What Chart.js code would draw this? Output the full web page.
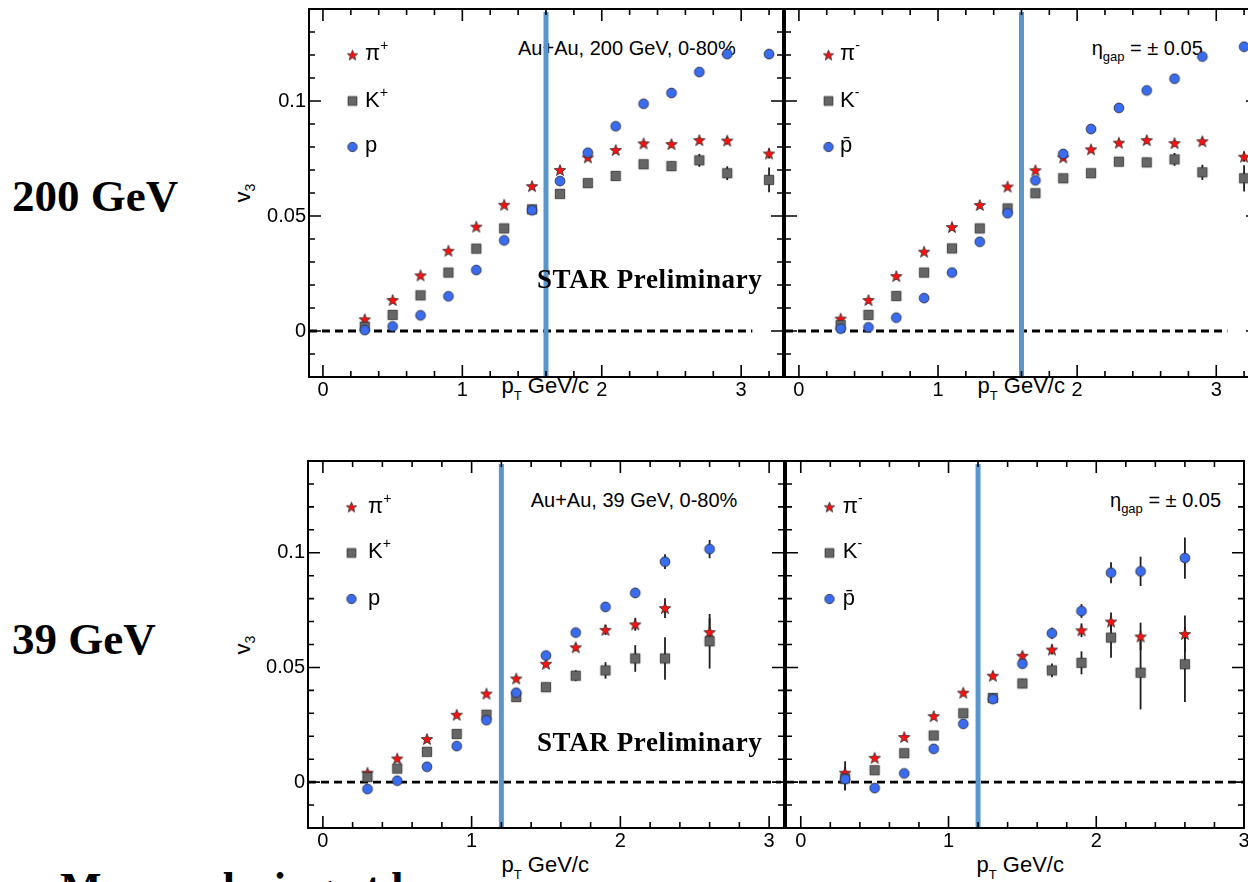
<!DOCTYPE html>
<html><head><meta charset="utf-8">
<script src="https://cdn.jsdelivr.net/npm/chart.js@4.4.0/dist/chart.umd.min.js"></script>
<style>
html,body{margin:0;padding:0;background:#fff;width:1248px;height:882px;overflow:hidden;position:relative;font-family:"Liberation Sans",Arial,sans-serif;color:#000;}
canvas{position:absolute;z-index:1;}
.t{position:absolute;white-space:nowrap;color:#000;}
.sans{font-family:"Liberation Sans","DejaVu Sans",Arial,sans-serif;}
.serif{font-family:"Liberation Serif","DejaVu Serif",serif;font-weight:bold;}
.up{position:relative;line-height:0;}
.front{z-index:3;}
.back{z-index:0;}
</style></head>
<body>
<canvas id="c200a"></canvas>
<canvas id="c200b"></canvas>
<canvas id="c39a"></canvas>
<canvas id="c39b"></canvas>
<div id="texts"></div>
<script>
// ---------------- data ----------------
const pt200 = [0.3,0.5,0.7,0.9,1.1,1.3,1.5,1.7,1.9,2.1,2.3,2.5,2.7,2.9,3.2];
const v3_200_piPlus  = [0.0051,0.0135,0.0242,0.0349,0.0454,0.0549,0.0630,0.0700,0.0755,0.0787,0.0816,0.0813,0.0830,0.0828,0.0772];
const v3_200_kPlus   = [0.0019,0.0070,0.0155,0.0254,0.0358,0.0446,0.0529,0.0596,0.0643,0.0674,0.0725,0.0717,0.0742,0.0686,0.0657];
const v3_200_p       = [0.0004,0.0020,0.0068,0.0151,0.0265,0.0394,0.0525,0.0652,0.0775,0.0890,0.0988,0.1035,0.1126,0.1204,0.1204];
const err_200_piPlus = [0.0004,0.0004,0.0004,0.0004,0.0004,0.0005,0.0005,0.0006,0.0007,0.0008,0.0009,0.0011,0.0013,0.0016,0.0022];
const err_200_kPlus  = [0.0006,0.0006,0.0006,0.0006,0.0007,0.0007,0.0008,0.0009,0.0011,0.0013,0.0016,0.0020,0.0028,0.0030,0.0054];
const err_200_p      = [0.0006,0.0006,0.0006,0.0006,0.0006,0.0007,0.0008,0.0008,0.0009,0.0010,0.0011,0.0012,0.0013,0.0016,0.0021];
const v3_200_piMinus = [0.0054,0.0135,0.0239,0.0345,0.0452,0.0548,0.0628,0.0699,0.0755,0.0790,0.0819,0.0830,0.0817,0.0825,0.0758];
const v3_200_kMinus  = [0.0026,0.0070,0.0152,0.0254,0.0359,0.0446,0.0533,0.0599,0.0664,0.0686,0.0736,0.0733,0.0746,0.0690,0.0664];
const v3_200_pbar    = [0.0010,0.0016,0.0058,0.0143,0.0254,0.0388,0.0512,0.0655,0.0770,0.0878,0.0970,0.1046,0.1097,0.1193,0.1236];
const err_200_piMinus= [0.0004,0.0004,0.0004,0.0004,0.0004,0.0005,0.0005,0.0006,0.0007,0.0008,0.0009,0.0011,0.0013,0.0016,0.0022];
const err_200_kMinus = [0.0006,0.0006,0.0006,0.0006,0.0007,0.0007,0.0008,0.0009,0.0011,0.0013,0.0016,0.0020,0.0028,0.0033,0.0057];
const err_200_pbar   = [0.0006,0.0006,0.0006,0.0006,0.0006,0.0007,0.0008,0.0008,0.0009,0.0010,0.0011,0.0012,0.0013,0.0016,0.0021];

const pt39 = [0.3,0.5,0.7,0.9,1.1,1.3,1.5,1.7,1.9,2.1,2.3,2.6];
const v3_39_piPlus  = [0.0041,0.0103,0.0188,0.0294,0.0386,0.0452,0.0516,0.0588,0.0664,0.0688,0.0759,0.0654];
const v3_39_kPlus   = [0.0022,0.0059,0.0132,0.0210,0.0294,0.0371,0.0414,0.0464,0.0487,0.0539,0.0539,0.0614];
const v3_39_p       = [-0.0030,0.0006,0.0067,0.0157,0.0270,0.0390,0.0552,0.0652,0.0764,0.0825,0.0961,0.1016];
const err_39_piPlus = [0.0008,0.0008,0.0008,0.0009,0.0010,0.0011,0.0013,0.0016,0.0022,0.0028,0.0043,0.0060];
const err_39_kPlus  = [0.0012,0.0010,0.0010,0.0011,0.0013,0.0015,0.0018,0.0024,0.0036,0.0058,0.0093,0.0119];
const err_39_p      = [0.0012,0.0009,0.0009,0.0009,0.0010,0.0011,0.0013,0.0018,0.0020,0.0022,0.0032,0.0040];
const v3_39_piMinus = [0.0041,0.0106,0.0197,0.0288,0.0390,0.0464,0.0551,0.0578,0.0662,0.0700,0.0635,0.0646];
const v3_39_kMinus  = [0.0016,0.0052,0.0126,0.0203,0.0300,0.0367,0.0430,0.0487,0.0520,0.0630,0.0477,0.0514];
const v3_39_pbar    = [0.0013,-0.0026,0.0038,0.0145,0.0254,0.0362,0.0516,0.0649,0.0746,0.0913,0.0919,0.0977];
const err_39_piMinus= [0.0050,0.0010,0.0010,0.0010,0.0012,0.0014,0.0016,0.0022,0.0030,0.0040,0.0060,0.0080];
const err_39_kMinus = [0.0050,0.0012,0.0012,0.0014,0.0016,0.0018,0.0020,0.0030,0.0050,0.0088,0.0160,0.0165];
const err_39_pbar   = [0.0050,0.0012,0.0012,0.0012,0.0013,0.0015,0.0018,0.0024,0.0030,0.0046,0.0064,0.0090];

const xTickLabels = [0,1,2,3];
const yTickLabels = [0,0.05,0.1];
const yMin = -0.02, yMax = 0.14;
const split200 = 1.6, split39 = 1.2;
const zeroLineEnd = 3.08;

// ---------------- markers ----------------
function makeMarker(kind, size){
  const c = document.createElement('canvas');
  const s = Math.ceil(size*2+4);
  c.width = s; c.height = s;
  const g = c.getContext('2d');
  const cx = s/2, cy = s/2 + (kind==='star'? size*0.1:0);
  g.lineWidth = 0.8; g.strokeStyle = '#2a2a2a';
  g.beginPath();
  if(kind==='star'){
    const R=size, r=size*0.42;
    for(let i=0;i<10;i++){const a=-Math.PI/2+i*Math.PI/5;const rad=i%2?r:R;g.lineTo(cx+rad*Math.cos(a),cy+rad*Math.sin(a));}
    g.closePath(); g.fillStyle='#ff1010';
  } else if(kind==='square'){
    g.rect(cx-size,cy-size,2*size,2*size); g.fillStyle='#666666';
  } else {
    g.arc(cx,cy,size,0,Math.PI*2); g.fillStyle='#3a6cf2';
  }
  g.fill(); g.stroke();
  return c;
}
const mk = {star:makeMarker('star',6.0), square:makeMarker('square',4.7), circle:makeMarker('circle',4.9)};
const lg = {star:makeMarker('star',5.4), square:makeMarker('square',4.4), circle:makeMarker('circle',4.7)};

Chart.defaults.font.family = "'Liberation Sans', Arial, sans-serif";
Chart.defaults.font.size = 20;
Chart.defaults.color = '#000';

function ds(xs, ys, errs, kind, order){
  return {data: xs.map((x,i)=>({x:x,y:ys[i]})), errs: errs, pointStyle: mk[kind], pointRadius:5, order:order, showLine:false};
}

function buildChart(id, cfg){
  const canvas = document.getElementById(id);
  const yw = cfg.showY ? 80 : 0;
  const padL = cfg.showY ? 0 : 4, padR = 8, padT = 22, xh = 30;
  const W = yw + padL + cfg.areaW + padR, H = padT + cfg.areaH + xh;
  canvas.width = W; canvas.height = H;
  canvas.style.left = (cfg.left - yw - padL) + 'px';
  canvas.style.top = (cfg.top - padT) + 'px';
  canvas.style.width = W+'px'; canvas.style.height = H+'px';

  const framePlugin = {
    id:'frame'+id,
    beforeDatasetsDraw(chart){
      const ctx = chart.ctx, a = chart.chartArea, sx = chart.scales.x, sy = chart.scales.y;
      // zero line
      ctx.save();
      ctx.strokeStyle='#000'; ctx.lineWidth=2.8; ctx.setLineDash([8,5]);
      ctx.beginPath();
      ctx.moveTo(a.left, sy.getPixelForValue(0));
      ctx.lineTo(sx.getPixelForValue(Math.min(zeroLineEnd, cfg.xmax)), sy.getPixelForValue(0));
      ctx.stroke();
      ctx.restore();
      // error bars
      ctx.save();
      ctx.strokeStyle='#1e1e1e'; ctx.lineWidth=1.8;
      chart.data.datasets.forEach(d=>{
        d.data.forEach((p,i)=>{
          const e = d.errs[i];
          const px = sx.getPixelForValue(p.x);
          ctx.beginPath();
          ctx.moveTo(px, sy.getPixelForValue(p.y-e));
          ctx.lineTo(px, sy.getPixelForValue(p.y+e));
          ctx.stroke();
        });
      });
      ctx.restore();
    },
    afterDatasetsDraw(chart){
      const ctx = chart.ctx, a = chart.chartArea, sx = chart.scales.x, sy = chart.scales.y;
      // blue split line
      ctx.save();
      ctx.strokeStyle='#5b96cb'; ctx.lineWidth=5;
      const bx = sx.getPixelForValue(cfg.split);
      ctx.beginPath(); ctx.moveTo(bx, a.top+3); ctx.lineTo(bx, a.bottom); ctx.stroke();
      ctx.restore();
      // legend markers
      ['star','square','circle'].forEach((k,i)=>{
        const m = lg[k];
        ctx.drawImage(m, a.left+43.5-m.width/2, a.top+46+46*i-m.height/2);
      });
      // frame
      ctx.save();
      ctx.strokeStyle='#000'; ctx.lineWidth=2;
      ctx.strokeRect(a.left, a.top, a.right-a.left, a.bottom-a.top);
      ctx.lineWidth=1.6;
      ctx.beginPath();
      const k0 = Math.ceil(cfg.xmin/0.2 - 1e-9), k1 = Math.floor(cfg.xmax/0.2 + 1e-9);
      for(let k=k0;k<=k1;k++){
        const px = sx.getPixelForValue(k*0.2);
        if(px<=a.left+0.5 || px>=a.right-0.5) continue;
        const len = (k%5===0)?12:6;
        ctx.moveTo(px,a.bottom); ctx.lineTo(px,a.bottom-len);
        ctx.moveTo(px,a.top); ctx.lineTo(px,a.top+len);
      }
      const j0 = Math.ceil(yMin/0.01 - 1e-9), j1 = Math.floor(yMax/0.01 + 1e-9);
      for(let j=j0;j<=j1;j++){
        const py = sy.getPixelForValue(j*0.01);
        if(py<=a.top+0.5 || py>=a.bottom-0.5) continue;
        const len = (j%5===0)?12:6;
        ctx.moveTo(a.left,py); ctx.lineTo(a.left+len,py);
        ctx.moveTo(a.right,py); ctx.lineTo(a.right-len,py);
      }
      ctx.stroke();
      ctx.restore();
    }
  };

  return new Chart(canvas, {
    type:'scatter',
    data:{datasets: cfg.datasets},
    options:{
      responsive:false, animation:false, devicePixelRatio:1,
      layout:{padding:{left:padL,right:padR,top:padT,bottom:0}},
      plugins:{legend:{display:false}, tooltip:{enabled:false}},
      scales:{
        x:{type:'linear', min:cfg.xmin, max:cfg.xmax,
           grid:{display:false, drawTicks:false}, border:{display:false},
           afterBuildTicks: s=>{ s.ticks = xTickLabels.map(v=>({value:v})); },
           ticks:{padding:1, autoSkip:false, maxRotation:0, font:{size:20}, color:'#000', callback:v=>String(v)},
           afterFit: s=>{ s.height = xh; }},
        y:{type:'linear', min:yMin, max:yMax, display: cfg.showY,
           grid:{display:false, drawTicks:false}, border:{display:false},
           afterBuildTicks: s=>{ s.ticks = yTickLabels.map(v=>({value:v})); },
           ticks:{padding:3, autoSkip:false, font:{size:20}, color:'#000', callback:v=>String(v)},
           afterFit: s=>{ s.width = yw; }}
      }
    },
    plugins:[framePlugin]
  });
}

buildChart('c200a', {left:309, top:9, areaW:474, areaH:368, xmin:-0.1, xmax:3.3, showY:true, split:split200,
  datasets:[ds(pt200,v3_200_piPlus,err_200_piPlus,'star',2), ds(pt200,v3_200_kPlus,err_200_kPlus,'square',1), ds(pt200,v3_200_p,err_200_p,'circle',0)]});
buildChart('c200b', {left:783, top:9, areaW:475, areaH:368, xmin:-0.1, xmax:3.3, showY:false, split:split200,
  datasets:[ds(pt200,v3_200_piMinus,err_200_piMinus,'star',2), ds(pt200,v3_200_kMinus,err_200_kMinus,'square',1), ds(pt200,v3_200_pbar,err_200_pbar,'circle',0)]});
buildChart('c39a', {left:308, top:461, areaW:476, areaH:367, xmin:-0.1, xmax:3.1, showY:true, split:split39,
  datasets:[ds(pt39,v3_39_piPlus,err_39_piPlus,'star',2), ds(pt39,v3_39_kPlus,err_39_kPlus,'square',1), ds(pt39,v3_39_p,err_39_p,'circle',0)]});
buildChart('c39b', {left:784, top:461, areaW:460, areaH:367, xmin:-0.1, xmax:3.0, showY:false, split:split39,
  datasets:[ds(pt39,v3_39_piMinus,err_39_piMinus,'star',2), ds(pt39,v3_39_kMinus,err_39_kMinus,'square',1), ds(pt39,v3_39_pbar,err_39_pbar,'circle',0)]});

// ---------------- texts ----------------
const host = document.getElementById('texts');
function txt(html, left, baseline, size, cls, k, extra){
  const d = document.createElement('div');
  d.className = 't ' + cls;
  d.style.fontSize = size+'px';
  d.style.lineHeight = size+'px';
  d.style.left = left+'px';
  d.style.top = (baseline - k*size)+'px';
  if(extra) Object.assign(d.style, extra);
  d.innerHTML = html;
  host.appendChild(d);
  return d;
}
const KS = 0.8465, KR = 0.8375;
const sup = s=>'<span class="up" style="font-size:14px;top:-10px;">'+s+'</span>';
const sub = s=>'<span class="up" style="font-size:13px;top:6px;">'+s+'</span>';
// left row labels
txt('200 GeV', 12, 211.7, 45, 'serif', KR);
txt('39 GeV', 12, 655, 45, 'serif', KR);
txt('Mass ordering at low p<sub>T</sub> ...', 60, 904, 44, 'serif', KR);
// legends
const legBase200 = [61,108,153];
[['π'+sup('+'),'K'+sup('+'),'p'],
 ['π'+sup('-'),'K'+sup('-'),'p\u0304']].forEach((labs,pi)=>{
  const lx = pi===0?365:840;
  labs.forEach((l,i)=>{ txt(l, lx, legBase200[i], 22, 'sans', KS, {zIndex:2}); });
});
const legBase39 = [513.3,559,606];
[['π'+sup('+'),'K'+sup('+'),'p'],
 ['π'+sup('-'),'K'+sup('-'),'p\u0304']].forEach((labs,pi)=>{
  const lx = pi===0?368:842.7;
  labs.forEach((l,i)=>{ txt(l, lx, legBase39[i], 22, 'sans', KS, {zIndex:2}); });
});
// annotations
txt('Au+Au, 200 GeV, 0-80%', 518, 55, 20, 'sans back', KS);
txt('Au+Au, 39 GeV, 0-80%', 530.7, 507, 20, 'sans back', KS);
txt('η'+sub('gap')+'&nbsp;= ± 0.05', 1091.7, 55, 20, 'sans back', KS);
txt('η'+sub('gap')+'&nbsp;= ± 0.05', 1110, 507, 20, 'sans back', KS);
txt('STAR Preliminary', 537, 288.3, 27, 'serif front', KR, {letterSpacing:'0.6px'});
txt('STAR Preliminary', 537, 751.7, 27, 'serif front', KR, {letterSpacing:'0.6px'});
// axis titles
function ytitle(cx, cy){
  const d = document.createElement('div');
  d.className='t sans';
  d.style.fontSize='22px'; d.style.lineHeight='22px';
  d.style.left=cx+'px'; d.style.top=cy+'px';
  d.style.transform='translate(-50%,-50%) rotate(-90deg)';
  d.innerHTML='v'+'<span class="up" style="font-size:14px;top:5px;">3</span>';
  host.appendChild(d);
}
ytitle(243,193); ytitle(243,644.5);
function xtitle(cx, baseline){
  const d = txt('p'+'<span class="up" style="font-size:13px;top:7px;">T</span>&nbsp;GeV/c', 0, baseline, 22, 'sans', KS);
  d.style.left = (cx - d.offsetWidth/2)+'px';
}
xtitle(545,394); xtitle(1021,394);
xtitle(545,873); xtitle(1020,873);
</script>
</body></html>
